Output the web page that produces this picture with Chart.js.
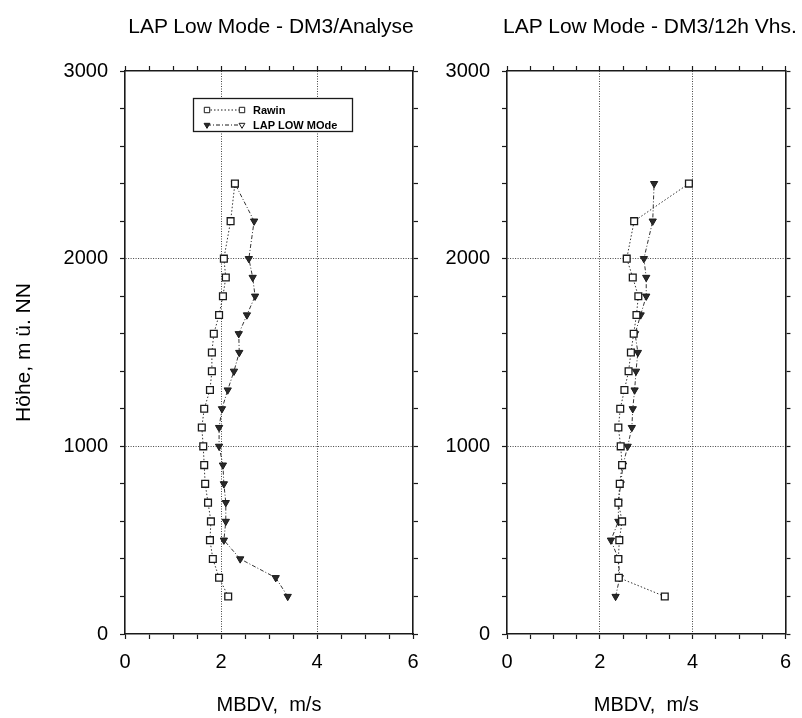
<!DOCTYPE html>
<html>
<head>
<meta charset="utf-8">
<script src="https://cdn.jsdelivr.net/npm/chart.js@4/dist/chart.umd.min.js"></script>
<style>
  html, body { margin: 0; padding: 0; background: #fff; }
  #wrap { position: relative; width: 802px; height: 718px; overflow: hidden; background: #fff; }
  canvas { position: absolute; top: 0; }
  .ptitle { position: absolute; top: 14px; font-family: "Liberation Sans", Arial, sans-serif; font-size: 21px; color: #000; white-space: nowrap; transform: translateX(-50%); }
</style>
</head>
<body>
<div id="wrap">
  <canvas id="c1" width="450" height="718" style="left:0px"></canvas>
  <canvas id="c2" width="356" height="718" style="left:446px"></canvas>
  <div class="ptitle" style="left:271px">LAP Low Mode - DM3/Analyse</div>
  <div class="ptitle" style="left:650px">LAP Low Mode - DM3/12h Vhs.</div>
</div>
<script>
// ---- data ----
const heights = [200,300,400,500,600,700,800,900,1000,1100,1200,1300,1400,1500,1600,1700,1800,1900,2000,2200,2400];
const rawinAnalyse = [2.15,1.96,1.83,1.77,1.79,1.73,1.67,1.65,1.63,1.60,1.65,1.77,1.81,1.81,1.85,1.96,2.04,2.10,2.06,2.20,2.29];
const lapAnalyse   = [3.39,3.14,2.40,2.06,2.10,2.10,2.06,2.04,1.96,1.96,2.02,2.14,2.27,2.38,2.37,2.54,2.71,2.66,2.58,2.69,2.29];
const rawinVhs     = [3.40,2.41,2.40,2.42,2.48,2.40,2.43,2.48,2.45,2.40,2.44,2.53,2.62,2.67,2.73,2.79,2.83,2.71,2.58,2.74,3.92];
const lapVhs       = [2.34,2.43,2.40,2.24,2.40,2.40,2.45,2.50,2.60,2.69,2.71,2.75,2.78,2.82,2.76,2.88,3.00,3.00,2.95,3.14,3.17];
const xTickLabels = [0,2,4,6];
const yTickLabels = [0,1000,2000,3000];
const seriesNames = ['Rawin','LAP LOW MOde'];
const panelTitles = ['LAP Low Mode - DM3/Analyse','LAP Low Mode - DM3/12h Vhs.'];
const xTitle = 'MBDV,  m/s';
const yTitle = 'Höhe, m ü. NN';

const FONT = '"Liberation Sans", Arial, sans-serif';
const INK = '#1a1a1a';
const GRID = '#444';

function pts(vals){ return vals.map((v,i)=>({x:v, y:heights[i]})); }

const rawinStyle = {
  borderColor: '#333', borderWidth: 1, borderDash: [1.5,2],
  pointStyle: 'rect', pointRadius: 4.8, pointBorderWidth: 1.3,
  pointBorderColor: INK, pointBackgroundColor: '#fff'
};
const lapStyle = {
  borderColor: '#333', borderWidth: 1, borderDash: [4,2,1,2],
  pointStyle: 'triangle', pointRotation: 180, pointRadius: 4.2, pointBorderWidth: 1,
  pointBorderColor: INK, pointBackgroundColor: '#2a2a2a'
};

const legendPlugin = {
  id: 'boxLegend',
  afterDatasetsDraw(chart, args, opts) {
    if (!opts || !opts.show) return;
    const ctx = chart.ctx, a = chart.chartArea;
    const bx = a.left + 68, by = a.top + 27, bw = 159, bh = 33;
    ctx.save();
    ctx.fillStyle = '#fff';
    ctx.fillRect(bx, by, bw, bh);
    ctx.lineWidth = 1.3; ctx.strokeStyle = INK;
    ctx.strokeRect(bx + 0.5, by + 0.5, bw, bh);
    const rows = [
      {y: by + 12, ds: chart.data.datasets[0], name: seriesNames[0], fill2: '#fff'},
      {y: by + 27, ds: chart.data.datasets[1], name: seriesNames[1], fill2: '#fff'}
    ];
    rows.forEach(r => {
      const x1 = bx + 14, x2 = bx + 49;
      ctx.lineWidth = 1; ctx.strokeStyle = INK;
      ctx.setLineDash(r.ds.borderDash);
      ctx.beginPath(); ctx.moveTo(x1, r.y); ctx.lineTo(x2, r.y); ctx.stroke();
      ctx.setLineDash([]);
      const o1 = {pointStyle: r.ds.pointStyle, rotation: r.ds.pointRotation || 0, radius: r.ds.pointRadius * 0.8, borderWidth: 1};
      ctx.strokeStyle = INK;
      ctx.fillStyle = r.ds.pointBackgroundColor;
      Chart.helpers.drawPoint(ctx, o1, x1, r.y);
      ctx.fillStyle = r.fill2;
      Chart.helpers.drawPoint(ctx, o1, x2, r.y);
      ctx.fillStyle = '#000';
      ctx.font = 'bold 11px ' + FONT;
      ctx.textBaseline = 'middle'; ctx.textAlign = 'left';
      ctx.fillText(r.name, bx + 60, r.y + 0.5);
    });
    ctx.restore();
  }
};

function makeChart(id, rawin, lap, opt) {
  const xMajor = v => xTickLabels.includes(v);
  const yMajor = v => yTickLabels.includes(v);
  return new Chart(document.getElementById(id), {
    type: 'scatter',
    plugins: [legendPlugin],
    data: {
      datasets: [
        Object.assign({label: seriesNames[0], data: pts(rawin), showLine: true}, rawinStyle),
        Object.assign({label: seriesNames[1], data: pts(lap), showLine: true}, lapStyle)
      ]
    },
    options: {
      responsive: false, animation: false, devicePixelRatio: 1,
      layout: {padding: 0},
      plugins: {
        legend: {display: false}, tooltip: {enabled: false}, title: {display: false},
        boxLegend: {show: opt.legend}
      },
      scales: {
        x: {
          type: 'linear', position: 'bottom', min: 0, max: 6,
          afterFit: s => { s.height = 84; },
          ticks: {
            stepSize: 0.5, autoSkip: false, maxRotation: 0, padding: 11,
            color: '#000', font: {family: FONT, size: 20},
            callback: v => xMajor(v) ? String(v) : ''
          },
          grid: {
            drawOnChartArea: true, drawTicks: true, tickLength: 5,
            color: c => (c.tick && (c.tick.value === 2 || c.tick.value === 4)) ? GRID : 'rgba(0,0,0,0)',
            lineWidth: 1, tickColor: INK, tickWidth: 1.2, tickBorderDash: []
          },
          border: {display: true, color: INK, width: 1.6, dash: [1,1.5]},
          title: {display: true, text: xTitle, color: '#000', font: {family: FONT, size: 20}, padding: {top: 0, bottom: 1}}
        },
        x2: {
          type: 'linear', position: 'top', min: 0, max: 6,
          afterFit: s => { s.height = 71; },
          ticks: {display: false, stepSize: 0.5, autoSkip: false},
          grid: {drawOnChartArea: false, drawTicks: true, tickLength: 5, tickColor: INK, tickWidth: 1.2, tickBorderDash: []},
          border: {display: true, color: INK, width: 1.6}
        },
        y: {
          type: 'linear', position: 'left', min: 0, max: 3000,
          afterFit: s => { s.width = opt.yWidth; },
          ticks: {
            stepSize: 200, autoSkip: false, padding: 12,
            color: '#000', font: {family: FONT, size: 20},
            callback: v => yMajor(v) ? String(v) : ''
          },
          grid: {
            drawOnChartArea: true, drawTicks: true, tickLength: 5,
            color: c => (c.tick && (c.tick.value === 1000 || c.tick.value === 2000)) ? GRID : 'rgba(0,0,0,0)',
            lineWidth: 1, tickColor: INK, tickWidth: 1.2, tickBorderDash: []
          },
          border: {display: true, color: INK, width: 1.6, dash: [1,1.5]},
          title: {display: opt.yTitle, text: yTitle, color: '#000', font: {family: FONT, size: 21}, padding: {top: 12, bottom: 0}}
        },
        y2: {
          type: 'linear', position: 'right', min: 0, max: 3000,
          afterFit: s => { s.width = opt.y2Width; },
          ticks: {display: false, stepSize: 200, autoSkip: false},
          grid: {drawOnChartArea: false, drawTicks: true, tickLength: 5, tickColor: INK, tickWidth: 1.2, tickBorderDash: []},
          border: {display: true, color: INK, width: 1.6}
        }
      }
    }
  });
}

makeChart('c1', rawinAnalyse, lapAnalyse, {legend: true, yTitle: true, yWidth: 125, y2Width: 37});
makeChart('c2', rawinVhs, lapVhs, {legend: false, yTitle: false, yWidth: 61, y2Width: 8});
</script>
</body>
</html>
